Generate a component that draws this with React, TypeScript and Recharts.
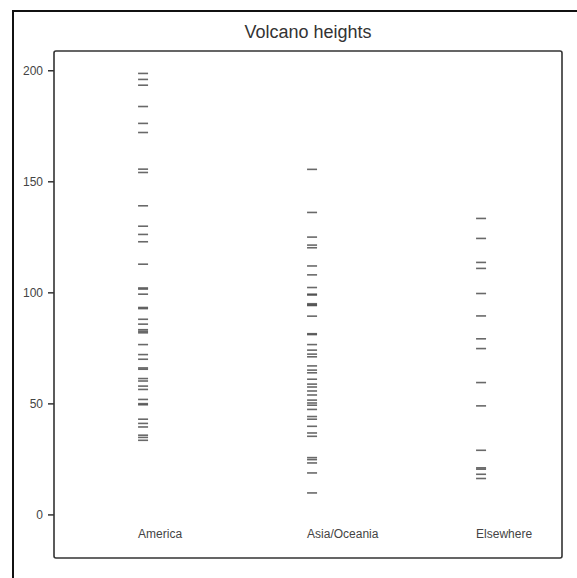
import { ScatterChart, Scatter, XAxis, YAxis, ReferenceArea } from 'recharts'

// categories (x = 1, 2, 3)
const categories = ['America', 'Asia/Oceania', 'Elsewhere']

// heights
const america = [
    198.8, 196.1, 193.5, 183.9, 176.3, 172.2, 155.7, 154.2, 139.2, 130, 126.3, 123, 112.9,
    102.2, 101.7, 99.4, 93.4, 92.9, 88.1, 85.9, 83.4, 82.7, 82, 76.7, 72.2, 70.1, 66.2, 65.6,
    61.4, 60.3, 58, 56.5, 52, 50.1, 49.6, 43.1, 41.2, 39.6, 35.9, 34.9, 33.6,
]
const asiaOceania = [
    155.6, 136.2, 125.1, 121.5, 120.3, 112.1, 108.1, 102.4, 99.4, 99, 95.1, 94.6, 94.3, 89.5,
    81.6, 81.2, 76.7, 74.2, 72.4, 71.2, 67.1, 65.2, 64, 61.1, 58.9, 57.6, 55.8, 54, 51.7, 50.4,
    49.4, 47.5, 44.3, 43.1, 39.9, 36.9, 35.4, 25.8, 24.9, 23.4, 18.9, 9.9,
]
const elsewhere = [
    133.5, 124.5, 113.7, 111, 99.7, 89.6, 79.3, 74.9, 59.6, 49.1, 29.1, 21.2, 20.6, 18.3, 16.4,
]

const yTicks = [0, 50, 100, 150, 200]

const X_DOMAIN: [number, number] = [0.473, 3.479]
const Y_DOMAIN: [number, number] = [-19.4, 208.9]

const toPoints = (values: number[], idx: number) => values.map(v => ({ x: idx + 1, y: v }))

// short horizontal dash for each value
const Dash = (props: any) => {
    const { cx, cy } = props
    if (cx == null || cy == null) return null
    return (
        <line
            x1={cx - 5}
            x2={cx + 5}
            y1={cy}
            y2={cy}
            stroke="#444"
            strokeOpacity={0.8}
            strokeWidth={1.6}
        />
    )
}

const CategoryTick = (props: any) => {
    const { x, y, payload } = props
    return (
        <text
            x={x - 5}
            y={y - 20}
            textAnchor="start"
            fontSize={12}
            fill="#444"
            fontFamily="Liberation Sans, Arial, sans-serif"
        >
            {categories[payload.value - 1]}
        </text>
    )
}

export default function App() {
    const font = 'Liberation Sans, Arial, sans-serif'
    return (
        <div
            style={{
                position: 'fixed',
                left: 0,
                top: 0,
                width: 577,
                height: 578,
                overflow: 'hidden',
                background: '#fff',
                fontFamily: font,
            }}
        >
            {/* outer frame */}
            <div
                style={{
                    position: 'absolute',
                    left: 12,
                    top: 10,
                    width: 700,
                    height: 700,
                    border: '2px solid #111',
                }}
            />
            <div
                style={{
                    position: 'absolute',
                    left: 54,
                    top: 23,
                    width: 508,
                    textAlign: 'center',
                    fontSize: 18,
                    lineHeight: '18px',
                    color: '#333',
                }}
            >
                Volcano heights
            </div>
            <div style={{ position: 'absolute', left: 0, top: 0 }}>
                <ScatterChart
                    width={577}
                    height={578}
                    margin={{ top: 51, right: 15, bottom: 10, left: 10 }}
                >
                    <XAxis
                        type="number"
                        dataKey="x"
                        domain={X_DOMAIN}
                        ticks={[1, 2, 3]}
                        allowDataOverflow
                        axisLine={false}
                        tickLine={false}
                        tickSize={0}
                        tickMargin={0}
                        height={10}
                        tick={<CategoryTick />}
                    />
                    <YAxis
                        type="number"
                        dataKey="y"
                        domain={Y_DOMAIN}
                        ticks={yTicks}
                        allowDataOverflow
                        width={44}
                        axisLine={false}
                        tickLine={{ stroke: '#333', strokeWidth: 1.5 }}
                        tickSize={6}
                        tickMargin={5}
                        tick={{ fontSize: 12, fill: '#444', fontFamily: font }}
                    />
                    <ReferenceArea
                        x1={X_DOMAIN[0]}
                        x2={X_DOMAIN[1]}
                        y1={Y_DOMAIN[0]}
                        y2={Y_DOMAIN[1]}
                        fill="none"
                        stroke="#333"
                        strokeWidth={1.6}
                        radius={2}
                    />
                    <Scatter data={toPoints(america, 0)} shape={Dash} isAnimationActive={false} />
                    <Scatter data={toPoints(asiaOceania, 1)} shape={Dash} isAnimationActive={false} />
                    <Scatter data={toPoints(elsewhere, 2)} shape={Dash} isAnimationActive={false} />
                </ScatterChart>
            </div>
        </div>
    )
}
